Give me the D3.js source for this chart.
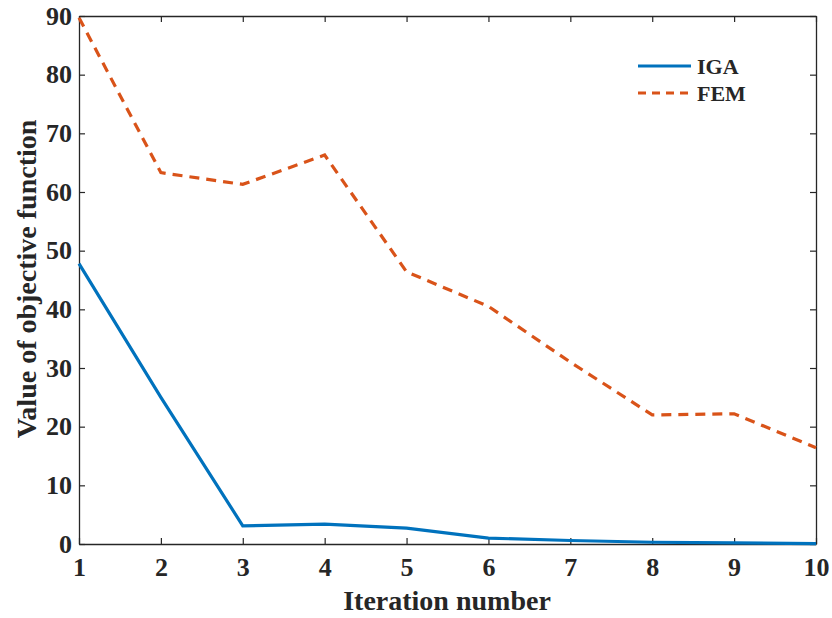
<!DOCTYPE html>
<html>
<head>
<meta charset="utf-8">
<script src="https://cdn.jsdelivr.net/npm/d3@7"></script>
<style>
body { margin: 0; background: #fff; }
text { font-family: "Liberation Serif", "Times New Roman", serif; font-weight: bold; fill: #262626; }
</style>
</head>
<body>
<div id="chart"></div>
<script>
// data
var iterations = [1, 2, 3, 4, 5, 6, 7, 8, 9, 10];
var igaValues = [47.8, 25.0, 3.1, 3.4, 2.7, 1.0, 0.6, 0.3, 0.2, 0.05];
var femValues = [89.7, 63.3, 61.3, 66.3, 46.4, 40.5, 31.0, 22.0, 22.2, 16.4];
var yTicks = [0, 10, 20, 30, 40, 50, 60, 70, 80, 90];
var seriesNames = ["IGA", "FEM"];

var svgWidth = 832, svgHeight = 618;
var margin = { top: 16, right: 16, bottom: 74, left: 79 };
var chartWidth = svgWidth - margin.left - margin.right;
var chartHeight = svgHeight - margin.top - margin.bottom;

var svg = d3.select("#chart").append("svg")
    .attr("width", svgWidth)
    .attr("height", svgHeight);

var chartGroup = svg.append("g")
    .attr("transform", `translate(${margin.left}, ${margin.top})`);

var xScale = d3.scaleLinear().domain([1, 10]).range([0, chartWidth]);
var yScale = d3.scaleLinear().domain([0, 90]).range([chartHeight, 0]);

// axes (matlab style: ticks inward, box on all sides)
var bottomAxis = d3.axisBottom(xScale).tickValues(iterations).tickSizeInner(-6).tickSizeOuter(0).tickPadding(14).tickFormat(d3.format("d"));
var leftAxis = d3.axisLeft(yScale).tickValues(yTicks).tickSizeInner(-6).tickSizeOuter(0).tickPadding(7);
var topAxis = d3.axisTop(xScale).tickValues(iterations).tickSizeInner(-6).tickSizeOuter(0).tickFormat("");
var rightAxis = d3.axisRight(yScale).tickValues(yTicks).tickSizeInner(-6).tickSizeOuter(0).tickFormat("");

var xAxis = chartGroup.append("g").attr("transform", `translate(0, ${chartHeight})`).call(bottomAxis);
var yAxis = chartGroup.append("g").call(leftAxis);
chartGroup.append("g").call(topAxis);
chartGroup.append("g").attr("transform", `translate(${chartWidth}, 0)`).call(rightAxis);

chartGroup.selectAll(".domain").attr("stroke", "#262626").attr("stroke-width", 1.3);
chartGroup.selectAll(".tick line").attr("stroke", "#262626").attr("stroke-width", 1.2);
chartGroup.selectAll(".tick text").style("font-size", "26px").attr("fill", "#262626");
xAxis.selectAll(".tick text").attr("dy", "0.71em");

var line = d3.line()
    .x((d, i) => xScale(iterations[i]))
    .y(d => yScale(d));

chartGroup.append("path")
    .datum(femValues)
    .attr("fill", "none")
    .attr("stroke", "#D95319")
    .attr("stroke-width", 3.2)
    .attr("stroke-dasharray", "10,7")
    .attr("d", line);

chartGroup.append("path")
    .datum(igaValues)
    .attr("fill", "none")
    .attr("stroke", "#0072BD")
    .attr("stroke-width", 3.2)
    .attr("d", line);

// legend
var legend = svg.append("g");
var legendColors = ["#0072BD", "#D95319"];
var legendDash = [null, "8,6"];
seriesNames.forEach(function (name, i) {
    var ly = 66 + i * 27;
    legend.append("line")
        .attr("x1", 638).attr("x2", 691)
        .attr("y1", ly).attr("y2", ly)
        .attr("stroke", legendColors[i])
        .attr("stroke-width", 3.2)
        .attr("stroke-dasharray", legendDash[i]);
    legend.append("text")
        .attr("x", 697).attr("y", ly + 8)
        .style("font-size", "22px")
        .text(name);
});

// axis labels
svg.append("text")
    .attr("x", 447)
    .attr("y", 610)
    .attr("text-anchor", "middle")
    .style("font-size", "28px")
    .text("Iteration number");

svg.append("text")
    .attr("transform", `translate(36, 279) rotate(-90)`)
    .attr("text-anchor", "middle")
    .style("font-size", "28px")
    .text("Value of objective function");
</script>
</body>
</html>
